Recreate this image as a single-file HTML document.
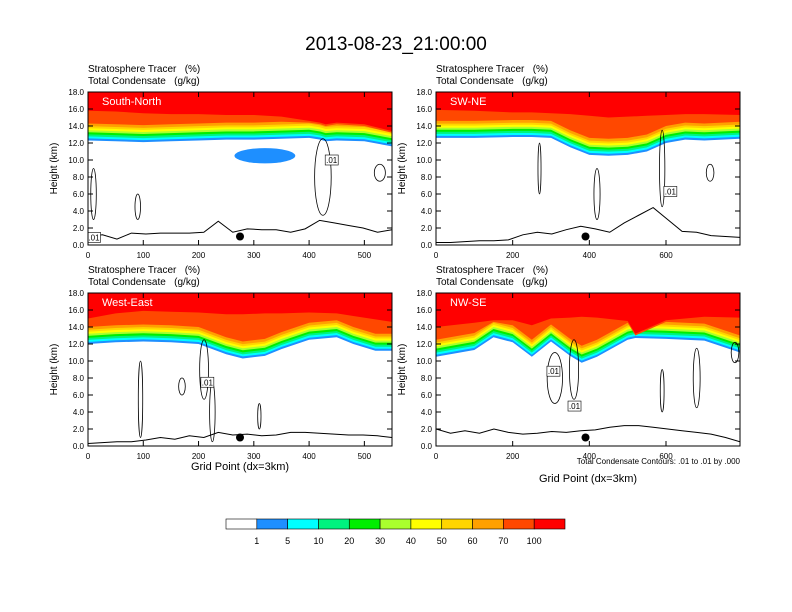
<!DOCTYPE html>
<html><head><meta charset="utf-8"><style>
html,body{margin:0;padding:0;background:#fff;}
svg{display:block;font-family:"Liberation Sans",sans-serif;}
text{white-space:pre;}
</style></head><body>
<svg id="chart" width="792" height="612" viewBox="0 0 792 612">
<text x="396" y="50" text-anchor="middle" font-size="19">2013-08-23_21:00:00</text>
<g id="panels"></g>
<g id="cbar"></g>
</svg>
<script>
const levelLabels = ["1","5","10","20","30","40","50","60","70","100"];
const levelColors = ["#ffffff","#1e8fff","#00ffff","#00f37f","#00ee00","#aaff2e","#ffff00","#ffd500","#ffa000","#ff4800","#ff0000"];
const yTicks = [0,2,4,6,8,10,12,14,16,18];

// panel 1: South-North
const p1X = [0,50,100,150,200,250,300,350,400,420,430,450,500,550];
const p1Base = [12.3,12.2,12.1,12.2,12.3,12.4,12.4,12.5,12.6,12.4,12.2,12.3,12.2,11.6];
const p1Red = [15.8,15.7,15.5,15.4,15.4,15.3,15.3,15.1,14.6,14.4,14.2,14.4,14.2,13.4];
const p1Terrain = [1,1.2,0.7,1.4,1.3,1.4,1.4,1.4,1.5,2.8,1.5,1.9,1.8,1.8,1.5,1.9,2.9,2.6,2.3,2.0,1.5,1.8];
const p1Blobs = [[320,10.5,55,0.9,"#1e8fff"],[10,6,5,3,"none"],[90,4.5,5,1.5,"none"],[425,8,15,4.5,"none"],[528,8.5,10,1,"none"]];
// panel 2: SW-NE
const p2X = [0,100,200,250,300,350,400,450,500,550,600,650,700,793];
const p2Base = [12.6,12.6,12.7,12.7,12.6,11.5,10.6,10.5,10.6,11.0,12.0,12.4,12.3,12.5];
const p2Red = [15.9,15.8,15.6,15.6,15.5,15.4,15.2,15.0,15.1,15.2,15.3,15.4,15.4,15.3];
const p2Terrain = [0.3,0.3,0.4,0.5,0.5,0.6,1.2,1.5,1.3,1.8,2.2,1.9,1.5,2.6,3.5,4.4,3.0,1.6,1.5,1.1,1.0,0.9];
const p2Blobs = [[270,9,4,3,"none"],[420,6,8,3,"none"],[590,9,7,4.5,"none"],[715,8.5,10,1,"none"]];
// panel 3: West-East
const p3X = [0,50,100,150,200,250,280,320,350,400,450,480,520,550];
const p3Base = [12.0,12.2,12.3,12.2,12.0,10.8,10.3,10.6,11.4,12.5,12.8,12.0,11.2,11.2];
const p3Red = [15.0,15.6,15.9,15.8,15.7,15.5,15.5,15.6,15.6,15.7,15.6,15.3,14.9,14.6];
const p3Terrain = [0.3,0.4,0.5,0.5,0.7,1.0,0.8,1.2,1.0,1.6,1.3,1.4,1.2,1.3,1.6,1.6,1.5,1.4,1.3,1.3,1.2,1.0];
const p3Blobs = [[95,5.5,4,4.5,"none"],[210,9,8,3.5,"none"],[225,4,5,3.5,"none"],[170,7,6,1,"none"],[310,3.5,3,1.5,"none"]];
// panel 4: NW-SE
const p4X = [0,100,150,200,250,300,350,380,420,500,520,600,700,793];
const p4Base = [10.5,11.3,12.8,12.2,10.5,12.3,10.6,9.8,10.5,12.5,12.7,12.6,12.4,11.0];
const p4Red = [14.0,14.5,14.8,14.8,14.2,15.0,15.1,15.2,15.1,14.7,13.2,14.8,15.2,15.1];
const p4Terrain = [2.0,1.5,1.8,1.5,2.0,1.6,1.4,1.5,1.7,1.6,1.8,1.9,2.2,2.4,2.4,2.2,2.0,1.8,1.6,1.4,1.0,0.5];
const p4Blobs = [[310,8,20,3,"none"],[360,9,12,3.5,"none"],[590,6.5,5,2.5,"none"],[680,8,9,3.5,"none"],[780,11,10,1.2,"none"]];

const panels = [
 {name:"south-north",label:"South-North",x0:88,y0:92,xmax:550,xt:[0,100,200,300,400,500],X:p1X,B:p1Base,R:p1Red,T:p1Terrain,bl:p1Blobs,dot:275,ct:[[440,10,".01"],[10,0.9,".01"]]},
 {name:"sw-ne",label:"SW-NE",x0:436,y0:92,xmax:793,xt:[0,200,400,600],X:p2X,B:p2Base,R:p2Red,T:p2Terrain,bl:p2Blobs,dot:390,ct:[[610,6.3,".01"]]},
 {name:"west-east",label:"West-East",x0:88,y0:293,xmax:550,xt:[0,100,200,300,400,500],X:p3X,B:p3Base,R:p3Red,T:p3Terrain,bl:p3Blobs,dot:275,ct:[[215,7.5,".01"]]},
 {name:"nw-se",label:"NW-SE",x0:436,y0:293,xmax:793,xt:[0,200,400,600],X:p4X,B:p4Base,R:p4Red,T:p4Terrain,bl:p4Blobs,dot:390,ct:[[305,8.8,".01"],[360,4.7,".01"]]}
];
const NS="http://www.w3.org/2000/svg";
function mk(tag,attrs,parent){const e=document.createElementNS(NS,tag);for(const k in attrs)e.setAttribute(k,attrs[k]);parent.appendChild(e);return e;}
const W=304,H=153;
const root=document.getElementById('panels');
panels.forEach(p=>{
 const g=mk('g',{},root);
 
 
 const sx=v=>p.x0+v/p.xmax*W, sy=v=>p.y0+H-v/18*H;
 const t1=mk('text',{x:p.x0,y:p.y0-20,'font-size':10},g);t1.textContent="Stratosphere Tracer   (%)";
 
 
 const t2=mk('text',{x:p.x0,y:p.y0-8,'font-size':10},g);t2.textContent="Total Condensate   (g/kg)";
 
 
 const cid='clip-'+p.name;
 const cp=mk('clipPath',{id:cid},g);mk('rect',{x:p.x0,y:p.y0,width:W,height:H},cp);
 const pg=mk('g',{'clip-path':'url(#'+cid+')'},g);
 for(let k=1;k<=10;k++){
  const pts=p.X.map((x,i)=>{let h;
   if(k===10)h=p.R[i];
   else if(k===9)h=Math.min(p.B[i]+2.0,p.R[i]-0.2);
   else h=p.B[i]+(k-1)*0.24;
   return sx(x)+','+sy(h);});
  const poly=mk('polygon',{points:sx(p.X[p.X.length-1])+','+p.y0+' '+sx(p.X[0])+','+p.y0+' '+pts.join(' '),fill:levelColors[k]},pg);
  
  
 }
 p.bl.forEach(b=>{
  const e=mk('ellipse',{cx:sx(b[0]),cy:sy(b[1]),rx:b[2]/p.xmax*W,ry:b[3]/18*H,fill:b[4],stroke:b[4]==="none"?"#000":"none",'stroke-width':0.8},pg);
  
  
 });
 const tp=p.T.map((v,i)=>sx(i/(p.T.length-1)*p.xmax)+','+sy(v)).join(' ');
 const tl=mk('polyline',{points:tp,fill:'none',stroke:'#000','stroke-width':1},pg);
 
 
 p.ct.forEach(c=>{
  const r=mk('rect',{x:sx(c[0])-6,y:sy(c[1])-5,width:13,height:10,fill:'#fff',stroke:'#000','stroke-width':0.6},pg);
  
  
  const t=mk('text',{x:sx(c[0])+0.5,y:sy(c[1])+3,'font-size':8,'text-anchor':'middle'},pg);t.textContent=c[2];
  
  
 });
 const d=mk('circle',{cx:sx(p.dot),cy:sy(1),r:4,fill:'#000'},pg);
 
 
 const lb=mk('text',{x:p.x0+14,y:p.y0+13,'font-size':11,fill:'#fff'},g);lb.textContent=p.label;
 
 
 const fr=mk('rect',{x:p.x0,y:p.y0,width:W,height:H,fill:'none',stroke:'#000','stroke-width':1},g);
 
 
 yTicks.forEach(v=>{
  mk('line',{x1:p.x0,x2:p.x0+5,y1:sy(v),y2:sy(v),stroke:'#000'},g);
  mk('line',{x1:p.x0+W,x2:p.x0+W-5,y1:sy(v),y2:sy(v),stroke:'#000'},g);
  const t=mk('text',{x:p.x0-4,y:sy(v)+3,'font-size':8,'text-anchor':'end'},g);t.textContent=v.toFixed(1);
  
  
 });
 p.xt.forEach(v=>{
  mk('line',{x1:sx(v),x2:sx(v),y1:p.y0+H,y2:p.y0+H-5,stroke:'#000'},g);
  mk('line',{x1:sx(v),x2:sx(v),y1:p.y0,y2:p.y0+5,stroke:'#000'},g);
  const t=mk('text',{x:sx(v),y:p.y0+H+13,'font-size':8,'text-anchor':'middle'},g);t.textContent=v;
  
  
 });
 const ya=mk('text',{x:0,y:0,'font-size':10,'text-anchor':'middle',transform:'translate('+(p.x0-31)+','+(p.y0+H/2)+') rotate(-90)'},g);ya.textContent="Height (km)";
 
 
});
[[240,470],[588,482]].forEach(a=>{
 const t=mk('text',{x:a[0],y:a[1],'font-size':11,'text-anchor':'middle'},root);t.textContent="Grid Point (dx=3km)";
 
 
});
const note=mk('text',{x:740,y:464,'font-size':8,'text-anchor':'end'},root);note.textContent="Total Condensate Contours: .01 to .01 by .000";


const cb=document.getElementById('cbar');
const bw=339/11;
levelColors.forEach((c,i)=>{
 const r=mk('rect',{x:226+i*bw,y:519,width:bw,height:10,fill:c,stroke:'#000','stroke-width':0.6},cb);
 
 
});
levelLabels.forEach((l,i)=>{
 const t=mk('text',{x:226+(i+1)*bw,y:544,'font-size':9,'text-anchor':'middle'},cb);t.textContent=l;
 
 
});
</script>
</body></html>
